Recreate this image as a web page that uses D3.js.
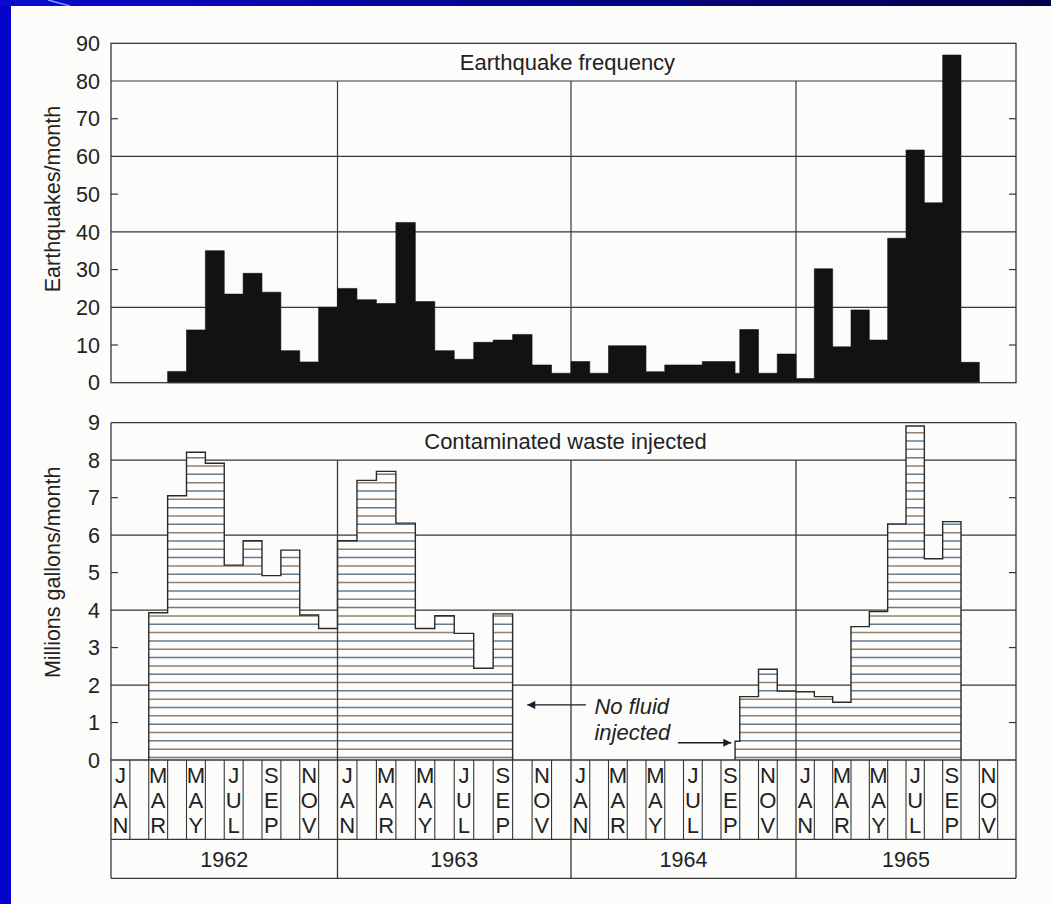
<!DOCTYPE html>
<html>
<head>
<meta charset="utf-8">
<script src="https://cdn.jsdelivr.net/npm/d3@7"></script>
<style>
  body { margin: 0; background: #0606c8; }
  svg { display: block; }
  text { font-family: "Liberation Sans", Arial, sans-serif; fill: #222; }
</style>
</head>
<body>
<svg id="chart" width="1051" height="904"></svg>
<script>
const years = ["1962", "1963", "1964", "1965"];
const monthNames = ["JAN", "FEB", "MAR", "APR", "MAY", "JUN", "JUL", "AUG", "SEP", "OCT", "NOV", "DEC"];
const labelledMonths = ["JAN", "MAR", "MAY", "JUL", "SEP", "NOV"];

const quakeTicks = [0, 10, 20, 30, 40, 50, 60, 70, 80, 90];
const quakeGrid = [20, 40, 60, 80];
const quakeMinor = [10, 30, 50, 70];
const wasteTicks = [0, 1, 2, 3, 4, 5, 6, 7, 8, 9];
const wasteGrid = [2, 4, 6, 8];
const wasteMinor = [1, 3, 5, 7];

// earthquakes per month, Jan 1962 .. Dec 1965
const earthquakes = [
  0, 0, 0, 3, 14, 35, 23.5, 29, 24, 8.5, 5.5, 20,
  25, 22, 21, 42.5, 21.5, 8.5, 6.2, 10.7, 11.3, 12.8, 4.7, 2.5,
  5.6, 2.5, 9.8, 9.8, 2.9, 4.7, 4.7, 5.6, 2.5, 14.1, 2.5, 7.6,
  1.1, 30.2, 9.5, 19.3, 11.3, 38.3, 61.7, 47.7, 86.9, 5.4, 0, 0
];

// millions of gallons injected per month, Jan 1962 .. Dec 1965
const wasteInjected = [
  0, 0, 3.93, 7.05, 8.21, 7.92, 5.2, 5.85, 4.92, 5.6, 3.87, 3.51,
  5.85, 7.46, 7.7, 6.32, 3.51, 3.85, 3.38, 2.45, 3.9, 0, 0, 0,
  0, 0, 0, 0, 0, 0, 0, 0, 0.5, 1.69, 2.42, 1.84,
  1.82, 1.69, 1.54, 3.56, 3.96, 6.3, 8.91, 5.37, 6.36, 0, 0, 0
];
// injection resumed late in Sep 1964 (month index, fractional)
const injectionRestart = 32.75;

const svg = d3.select("#chart");
const W = 1051, H = 904;

// frame of the slide
const defs = svg.append("defs");
const topGrad = defs.append("linearGradient").attr("id", "top-grad");
topGrad.append("stop").attr("offset", "0%").attr("stop-color", "#0a0ad0");
topGrad.append("stop").attr("offset", "100%").attr("stop-color", "#00004a");
svg.append("rect").attr("width", W).attr("height", H).attr("fill", "#0404cc");
svg.append("rect").attr("width", W).attr("height", 6).attr("fill", "url(#top-grad)");
svg.append("line").attr("x1", 48).attr("y1", 0).attr("x2", 70).attr("y2", 6)
  .attr("stroke", "#6fa0ff").attr("stroke-width", 1.5);
svg.append("rect").attr("x", 11).attr("y", 6).attr("width", W - 11).attr("height", H - 6)
  .attr("fill", "#fcfcfb");

// scales (the hand drawn years are not quite equal in width)
const x = d3.scaleLinear().domain([0, 12, 24, 36, 48]).range([111, 337.5, 571, 796, 1016]);
const yQ = d3.scaleLinear().domain([0, 90]).range([382.7, 43.3]);
const yW = d3.scaleLinear().domain([0, 9]).range([760, 422.7]);
const monthRowBottom = 839.3;
const yearRowBottom = 878.3;
const lineColor = "#363636";
const months = d3.range(48);

function stepPoints(values, start, end) {
  const pts = [];
  for (let i = start; i <= end; i++) {
    pts.push([i === Math.floor(injectionRestart) ? injectionRestart : i, values[i]]);
  }
  pts.push([end + 1, values[end]]);
  return pts;
}

function runsOf(values) {
  const runs = [];
  let s = null;
  values.forEach((v, i) => {
    if (v > 0 && s === null) s = i;
    if ((v <= 0 || i === values.length - 1) && s !== null) {
      runs.push([s, v > 0 ? i : i - 1]);
      s = null;
    }
  });
  return runs;
}

function gridAndTicks(g, y, grid, minor) {
  g.append("g").selectAll("line").data(grid).join("line")
    .attr("x1", x(0)).attr("x2", x(48))
    .attr("y1", d => y(d)).attr("y2", d => y(d))
    .attr("stroke", lineColor).attr("stroke-width", 1.2);
  g.append("g").selectAll("line").data(minor.flatMap(d => [[d, 0], [d, 1]])).join("line")
    .attr("x1", d => d[1] ? x(48) - 7 : x(0))
    .attr("x2", d => d[1] ? x(48) : x(0) + 7)
    .attr("y1", d => y(d[0])).attr("y2", d => y(d[0]))
    .attr("stroke", lineColor).attr("stroke-width", 1.2);
}

function tickLabels(g, y, ticks) {
  g.append("g").attr("text-anchor", "end")
    .selectAll("text").data(ticks).join("text")
    .attr("x", 100).attr("y", d => y(d))
    .attr("dy", "0.36em")
    .attr("font-size", 21.5)
    .text(d => d);
}

// ---------- earthquake frequency ----------
const topG = svg.append("g");
gridAndTicks(topG, yQ, quakeGrid, quakeMinor);
topG.append("g").selectAll("line").data([12, 24, 36]).join("line")
  .attr("x1", d => x(d)).attr("x2", d => x(d))
  .attr("y1", yQ(80)).attr("y2", yQ(0))
  .attr("stroke", lineColor).attr("stroke-width", 1.2);

const quakeArea = d3.area()
  .curve(d3.curveStepAfter)
  .x(d => x(d[0]))
  .y0(yQ(0))
  .y1(d => yQ(d[1]));
topG.append("g").selectAll("path").data(runsOf(earthquakes)).join("path")
  .attr("d", r => quakeArea(stepPoints(earthquakes, r[0], r[1])))
  .attr("fill", "#121212")
  .attr("stroke", "#121212").attr("stroke-width", 0.6);

topG.append("rect")
  .attr("x", x(0)).attr("y", yQ(90))
  .attr("width", x(48) - x(0)).attr("height", yQ(0) - yQ(90))
  .attr("fill", "none").attr("stroke", lineColor).attr("stroke-width", 1.3);
tickLabels(topG, yQ, quakeTicks);
topG.append("text")
  .attr("x", (x(0) + x(48)) / 2 + 4).attr("y", (yQ(90) + yQ(80)) / 2)
  .attr("dy", "0.36em").attr("text-anchor", "middle").attr("font-size", 22)
  .text("Earthquake frequency");
topG.append("text")
  .attr("transform", `translate(52,${(yQ(90) + yQ(0)) / 2 - 14}) rotate(-90)`)
  .attr("dy", "0.36em").attr("text-anchor", "middle").attr("font-size", 21.5)
  .text("Earthquakes/month");

// ---------- contaminated waste injected ----------
const botG = svg.append("g");
gridAndTicks(botG, yW, wasteGrid, wasteMinor);

const wasteRuns = runsOf(wasteInjected);
const wasteArea = d3.area()
  .curve(d3.curveStepAfter)
  .x(d => x(d[0]))
  .y0(yW(0))
  .y1(d => yW(d[1]));
const clip = defs.append("clipPath").attr("id", "waste-clip");
clip.selectAll("path").data(wasteRuns).join("path")
  .attr("d", r => wasteArea(stepPoints(wasteInjected, r[0], r[1])));

botG.append("g").selectAll("path").data(wasteRuns).join("path")
  .attr("d", r => wasteArea(stepPoints(wasteInjected, r[0], r[1])))
  .attr("fill", "#fdfdfc");

// horizontal hatching, about 4.5 lines per million gallons
const hatchLevels = d3.range(0, 41).map(k => (k + 0.3) * 2 / 9);
botG.append("g").attr("clip-path", "url(#waste-clip)")
  .selectAll("line").data(hatchLevels).join("line")
  .attr("x1", x(0)).attr("x2", x(48))
  .attr("y1", d => yW(d)).attr("y2", d => yW(d))
  .attr("stroke", (d, i) => i % 2 ? "#94806f" : "#687a8c")
  .attr("stroke-width", 1.5);

const outline = d3.line().curve(d3.curveStepAfter)
  .x(d => x(d[0])).y(d => yW(d[1]));
botG.append("g").selectAll("path").data(wasteRuns).join("path")
  .attr("d", r => {
    const pts = stepPoints(wasteInjected, r[0], r[1]);
    return outline([[pts[0][0], 0], ...pts, [r[1] + 1, 0]]);
  })
  .attr("fill", "none").attr("stroke", "#2a2a2a").attr("stroke-width", 1.4);

// month label row
const rowLines = months.slice(1).filter(m => m % 12 !== 0);
botG.append("g").selectAll("line").data(rowLines).join("line")
  .attr("x1", d => x(d)).attr("x2", d => x(d))
  .attr("y1", yW(0)).attr("y2", monthRowBottom)
  .attr("stroke", lineColor).attr("stroke-width", 1.1);
const labelMonths = months.filter(m => labelledMonths.includes(monthNames[m % 12]));
botG.append("g").attr("text-anchor", "middle")
  .selectAll("g").data(labelMonths).join("g")
  .attr("transform", d => `translate(${(x(d) + x(d + 1)) / 2},0)`)
  .selectAll("text").data(d => monthNames[d % 12].split("").map((c, i) => [c, i])).join("text")
  .attr("y", d => yW(0) + 15 + d[1] * 25)
  .attr("dy", "0.36em").attr("font-size", 22)
  .text(d => d[0]);

// year row
botG.append("g").attr("text-anchor", "middle")
  .selectAll("text").data(years).join("text")
  .attr("x", (d, i) => (x(i * 12) + x(i * 12 + 12)) / 2)
  .attr("y", (monthRowBottom + yearRowBottom) / 2)
  .attr("dy", "0.36em").attr("font-size", 21.5)
  .text(d => d);

// frame lines
botG.append("g").selectAll("line").data([12, 24, 36]).join("line")
  .attr("x1", d => x(d)).attr("x2", d => x(d))
  .attr("y1", yW(8)).attr("y2", yearRowBottom)
  .attr("stroke", lineColor).attr("stroke-width", 1.3);
botG.append("g").selectAll("line").data([0, 48]).join("line")
  .attr("x1", d => x(d)).attr("x2", d => x(d))
  .attr("y1", yW(9)).attr("y2", yearRowBottom)
  .attr("stroke", lineColor).attr("stroke-width", 1.3);
botG.append("g").selectAll("line").data([yW(9), yW(0), monthRowBottom, yearRowBottom]).join("line")
  .attr("x1", x(0)).attr("x2", x(48))
  .attr("y1", d => d).attr("y2", d => d)
  .attr("stroke", lineColor).attr("stroke-width", 1.3);

tickLabels(botG, yW, wasteTicks);
botG.append("text")
  .attr("x", (x(0) + x(48)) / 2 + 2).attr("y", (yW(9) + yW(8)) / 2)
  .attr("dy", "0.36em").attr("text-anchor", "middle").attr("font-size", 22)
  .text("Contaminated waste injected");
botG.append("text")
  .attr("transform", `translate(52,${(yW(9) + yW(0)) / 2 - 19}) rotate(-90)`)
  .attr("dy", "0.36em").attr("text-anchor", "middle").attr("font-size", 21.5)
  .text("Millions gallons/month");

// annotation
defs.append("marker").attr("id", "arrow")
  .attr("viewBox", "0 0 10 10").attr("refX", 10).attr("refY", 5)
  .attr("markerWidth", 17).attr("markerHeight", 8).attr("markerUnits", "userSpaceOnUse")
  .attr("orient", "auto")
  .append("path").attr("d", "M0,0 L10,5 L0,10 Z").attr("fill", "#1a1a2a");
const arrows = [[24.8, 21.75, 1.47], [29.7, 32.55, 0.46]];
botG.append("g").selectAll("line").data(arrows).join("line")
  .attr("x1", d => x(d[0])).attr("x2", d => x(d[1]))
  .attr("y1", d => yW(d[2])).attr("y2", d => yW(d[2]))
  .attr("stroke", "#1a1a2a").attr("stroke-width", 1.4)
  .attr("marker-end", "url(#arrow)");
botG.append("g").attr("font-style", "italic")
  .selectAll("text").data([["No fluid", 1.23], ["injected", 0.53]]).join("text")
  .attr("x", x(25.25)).attr("y", d => yW(d[1]))
  .attr("font-size", 22)
  .text(d => d[0]);
</script>
</body>
</html>
